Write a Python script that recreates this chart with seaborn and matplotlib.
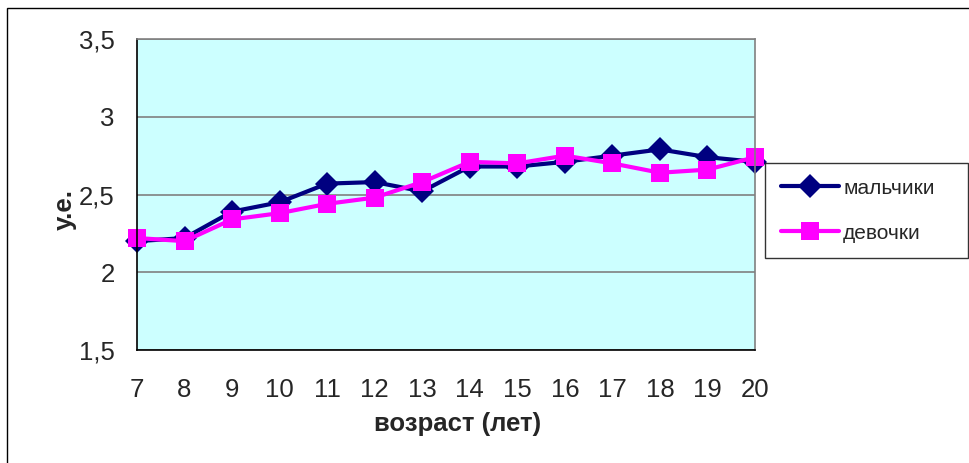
import matplotlib
matplotlib.use('Agg')
import matplotlib.pyplot as plt
import seaborn as sns
import pandas as pd
from matplotlib.patches import Rectangle

# data
ages = [7, 8, 9, 10, 11, 12, 13, 14, 15, 16, 17, 18, 19, 20]
boys = [2.20, 2.22, 2.39, 2.45, 2.57, 2.58, 2.52, 2.68, 2.68, 2.71, 2.75, 2.79, 2.74, 2.71]
girls = [2.22, 2.20, 2.34, 2.38, 2.44, 2.48, 2.58, 2.71, 2.70, 2.75, 2.70, 2.64, 2.66, 2.74]
series_names = ['мальчики', 'девочки']

df = pd.concat([
    pd.DataFrame({'age': ages, 'value': boys, 'sex': series_names[0]}),
    pd.DataFrame({'age': ages, 'value': girls, 'sex': series_names[1]}),
])

sns.set_style('white')
plt.rcParams['font.family'] = ['Liberation Sans', 'DejaVu Sans']

fig = plt.figure(figsize=(9.7, 4.63), dpi=100)
ax = fig.add_axes([137/970, 1 - 350/463, (755 - 137)/970, (350 - 39)/463])
ax.set_facecolor('#CCFFFF')

sns.lineplot(data=df, x='age', y='value', hue='sex', style='sex',
             palette={'мальчики': '#000080', 'девочки': '#FF00FF'},
             markers={'мальчики': 'D', 'девочки': 's'}, dashes=False,
             linewidth=3, markersize=12, markeredgewidth=0,
             ax=ax, legend=True)
for ln in ax.get_lines():
    ln.set_clip_on(False)
    if ln.get_marker() == 's':
        ln.set_markersize(13)

ax.set_xlim(7, 20)
ax.set_ylim(1.5, 3.5)
ax.set_xticks(ages)
ax.set_xticklabels([str(a) for a in ages])
yt = [1.5, 2, 2.5, 3, 3.5]
ax.set_yticks(yt)
ax.set_yticklabels([f'{v:g}'.replace('.', ',') for v in yt])
ax.tick_params(axis='both', direction='out', length=7, width=1, color='black',
               labelsize=18.5)
ax.tick_params(axis='x', pad=13)
ax.tick_params(axis='y', pad=9)
ax.grid(axis='y', color='#808080', linewidth=1.2)
ax.set_axisbelow(True)
ax.spines['left'].set_color('black')
ax.spines['bottom'].set_color('black')
ax.spines['top'].set_color('#808080')
ax.spines['right'].set_color('#808080')
for s in ax.spines.values():
    s.set_linewidth(1.2)

ax.set_xlabel('возраст (лет)', fontsize=18.5, fontweight='bold')
ax.xaxis.set_label_coords(0.518, -0.20)
ax.set_ylabel('у.е.', fontsize=18.5, fontweight='bold')
ax.yaxis.set_label_coords(-0.097, 0.453)

handles, labels = ax.get_legend_handles_labels()
ax.get_legend().remove()
for h in handles:
    if h.get_marker() == 's':
        h.set_markersize(13)
leg = fig.legend(handles, labels,
                 bbox_to_anchor=(765/970, 1 - 163/463, (968 - 765)/970, 0),
                 bbox_transform=fig.transFigure, loc='upper left', mode='expand',
                 fontsize=15, frameon=True, fancybox=False, edgecolor='black',
                 handlelength=2.8, handletextpad=0.2, labelspacing=1.25,
                 borderpad=0.75, borderaxespad=0)
leg.get_frame().set_linewidth(1)

# outer chart border
fig.patches.append(Rectangle((7/970, -0.05), 1.1, 1 - 8/463 + 0.05,
                             transform=fig.transFigure, fill=False,
                             edgecolor='black', linewidth=1))

fig.savefig('out.png', dpi=100)
